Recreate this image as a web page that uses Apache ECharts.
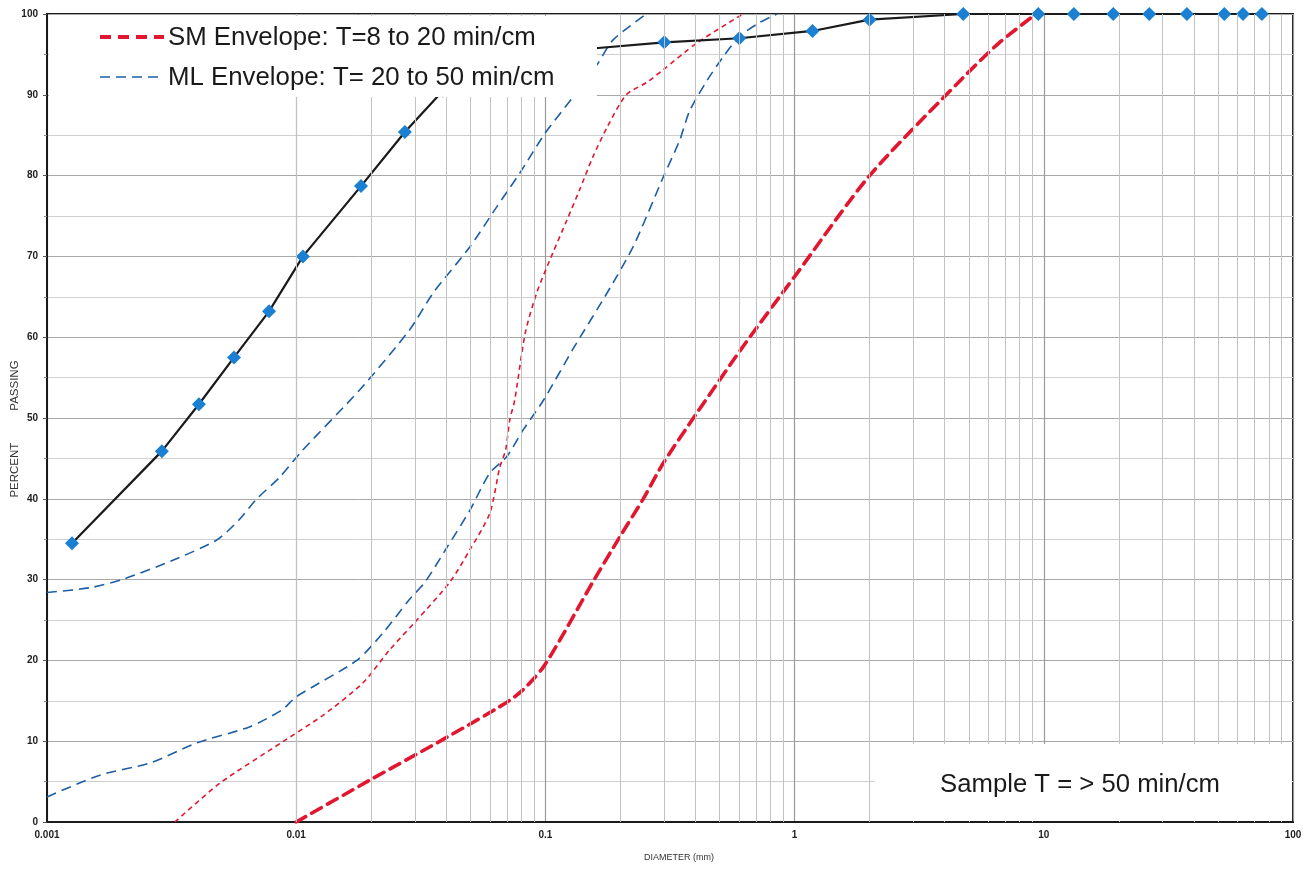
<!DOCTYPE html>
<html>
<head>
<meta charset="utf-8">
<title>Grain size distribution</title>
<script src="https://cdn.jsdelivr.net/npm/echarts@6/dist/echarts.min.js"></script>
<style>
  html, body { margin: 0; padding: 0; background: #ffffff; }
  #chart { width: 1303px; height: 870px; }
</style>
</head>
<body>
<div id="chart"></div>
<script>
// Sample gradation (sieve + hydrometer), diameter in mm vs percent passing
const sampleDiam = [0.00126, 0.00289, 0.00407, 0.00563, 0.00778, 0.01064, 0.0182, 0.0273, 0.0388, 0.075, 0.15,
                    0.3, 0.6, 1.18, 2.0, 4.75, 9.5, 13.2, 19, 26.5, 37.5, 53, 63, 75];
const samplePass = [34.5, 45.9, 51.7, 57.5, 63.2, 70.0, 78.7, 85.4, 90.5, 94.0, 95.7,
                    96.5, 97.0, 97.9, 99.3, 100, 100, 100, 100, 100, 100, 100, 100, 100];

// SM envelope (T = 8 to 20 min/cm): coarse bound
const smLowerDiam = [0.01, 0.0198, 0.0403, 0.0753, 0.0982, 0.155, 0.199, 0.246, 0.297, 0.405, 0.626, 1.0, 2.0, 4.7, 6.6, 9.3];
const smLowerPass = [0, 5.2, 10.5, 15.5, 19.2, 29.7, 35.3, 39.9, 44.4, 50.6, 59.0, 67.5, 80.0, 92.0, 96.4, 100];

// SM envelope: fine bound
const smUpperDiam = [0.00326, 0.00494, 0.0088, 0.0128, 0.0185, 0.0237, 0.0305, 0.0414, 0.0498, 0.0598, 0.0656, 0.0692,
                     0.072, 0.0753, 0.083, 0.0923, 0.107, 0.122, 0.137, 0.155, 0.177, 0.211, 0.254, 0.297, 0.405, 0.62];
const smUpperPass = [0, 4.8, 9.9, 13.2, 17.2, 21.3, 25.0, 29.7, 33.7, 38.2, 43.9, 46.0,
                     49.8, 52.2, 60.5, 65.5, 70.4, 74.5, 78.2, 82.3, 86.0, 90.0, 91.5, 93.1, 96.4, 100];

// ML envelope (T = 20 to 50 min/cm): coarse bound
const mlLowerDiam = [0.001, 0.00163, 0.00259, 0.004, 0.00653, 0.0088, 0.01, 0.0175, 0.0223, 0.0284, 0.0329, 0.0403,
                     0.0498, 0.0598, 0.0699, 0.0813, 0.0982, 0.13, 0.177, 0.225, 0.297, 0.346, 0.379, 0.446, 0.517, 0.6, 0.72, 0.85];
const mlLowerPass = [3.1, 5.8, 7.3, 9.8, 11.8, 13.9, 15.5, 20.0, 23.4, 27.5, 29.7, 34.0,
                     38.6, 43.2, 45.2, 48.5, 52.2, 58.7, 65.5, 71.2, 79.8, 84.4, 88.0, 91.8, 94.7, 97.2, 98.9, 100];

// ML envelope: fine bound
const mlUpperDiam = [0.001, 0.00149, 0.002, 0.0032, 0.0048, 0.0059, 0.0069, 0.0086, 0.0106, 0.018, 0.0285, 0.0355,
                     0.0498, 0.0637, 0.0789, 0.1, 0.129, 0.161, 0.187, 0.254];
const mlUpperPass = [28.4, 29.0, 30.0, 32.4, 34.9, 37.4, 39.9, 42.7, 46.0, 53.5, 60.9, 65.5,
                     71.2, 76.1, 80.3, 85.3, 89.7, 93.7, 96.8, 100];

// Axis labels
const xTickLabels = ['0.001', '0.01', '0.1', '1', '10', '100'];
const yTicks = [0, 10, 20, 30, 40, 50, 60, 70, 80, 90, 100];
const decades = [0.001, 0.01, 0.1, 1, 10];

const legendText = ['SM Envelope: T=8 to 20 min/cm', 'ML Envelope: T= 20 to 50 min/cm'];
const noteText = 'Sample T = > 50 min/cm';

const RED = '#e2162f';
const BLUE = '#1c5ea6';
const FONT = '"Liberation Sans", Arial, sans-serif';

const zip = (xs, ys) => xs.map((x, i) => [x, ys[i]]);

// intermediate log-cycle grid lines (2..9 in every decade)
const minorGrid = [];
decades.forEach(d => { for (let m = 2; m <= 9; m++) minorGrid.push({ xAxis: +(m * d).toPrecision(3) }); });

const chart = echarts.init(document.getElementById('chart'), null, { renderer: 'canvas' });

const envelopeCommon = {
  type: 'line', showSymbol: false, symbol: 'none', smooth: 0.25,
  silent: true, animation: false, z: 3
};

chart.setOption({
  backgroundColor: '#ffffff',
  animation: false,
  textStyle: { fontFamily: FONT },
  grid: {
    left: 47, right: 10, top: 14, bottom: 48,
    outerBoundsMode: 'none', containLabel: false,
    show: true, borderColor: '#1a1a1a', borderWidth: 2, backgroundColor: 'transparent'
  },
  xAxis: {
    type: 'log', logBase: 10, min: 0.001, max: 100,
    name: 'DIAMETER (mm)', nameLocation: 'middle', nameGap: 31, nameMoveOverlap: false,
    nameTextStyle: { fontSize: 9, color: '#333', fontFamily: FONT, padding: [0, 0, 0, 18] },
    axisLine: { show: true, onZero: false, lineStyle: { color: '#1a1a1a', width: 2 } },
    axisTick: { show: false },
    axisLabel: {
      fontSize: 10, fontWeight: 'bold', color: '#222', margin: 8, fontFamily: FONT,
      formatter: v => {
        const i = Math.round(Math.log10(v)) + 3;
        return xTickLabels[i] !== undefined ? xTickLabels[i] : '';
      }
    },
    splitLine: { show: true, lineStyle: { color: '#9a9a9a', width: 1.2 } }
  },
  yAxis: {
    type: 'value', min: 0, max: 100, interval: 10,
    name: 'PERCENT          PASSING', nameLocation: 'middle', nameGap: 26, nameRotate: 90, nameMoveOverlap: false,
    nameTextStyle: { fontSize: 11.5, color: '#333', fontFamily: FONT, padding: [0, 22, 0, 0] },
    axisLine: { show: true, onZero: false, lineStyle: { color: '#1a1a1a', width: 2 } },
    axisTick: { show: true, length: 4, lineStyle: { color: '#555' } },
    axisLabel: {
      fontSize: 10, fontWeight: 'bold', color: '#222', margin: 9, fontFamily: FONT,
      formatter: v => (yTicks.indexOf(v) >= 0 ? String(v) : '')
    },
    splitLine: { show: true, lineStyle: { color: '#a8a8a8', width: 1 } },
    minorTick: { show: true, splitNumber: 2, length: 3, lineStyle: { color: '#888' } },
    minorSplitLine: { show: true, lineStyle: { color: '#cfcfcf', width: 1 } }
  },
  series: [
    {
      name: 'log grid', type: 'line', data: [], silent: true, z: 1,
      markLine: {
        silent: true, symbol: ['none', 'none'], animation: false,
        label: { show: false }, emphasis: { disabled: true },
        lineStyle: { color: '#c2c2c2', width: 1, type: 'solid' },
        data: minorGrid
      }
    },
    Object.assign({}, envelopeCommon, {
      name: 'SM Envelope (coarse)', data: zip(smLowerDiam, smLowerPass),
      lineStyle: { color: RED, width: 3.6, type: [11, 7], cap: 'round' }
    }),
    Object.assign({}, envelopeCommon, {
      name: 'SM Envelope (fine)', data: zip(smUpperDiam, smUpperPass),
      lineStyle: { color: RED, width: 1.6, type: [5, 4] }
    }),
    Object.assign({}, envelopeCommon, {
      name: 'ML Envelope (coarse)', data: zip(mlLowerDiam, mlLowerPass),
      lineStyle: { color: BLUE, width: 1.6, type: [10, 6] }
    }),
    Object.assign({}, envelopeCommon, {
      name: 'ML Envelope (fine)', data: zip(mlUpperDiam, mlUpperPass),
      lineStyle: { color: BLUE, width: 1.6, type: [10, 6] }
    }),
    {
      name: 'Sample', type: 'line', data: zip(sampleDiam, samplePass),
      symbol: 'diamond', symbolSize: 14, showSymbol: true, clip: false, z: 4,
      lineStyle: { color: '#1a1a1a', width: 2.2 },
      itemStyle: { color: '#1b80d2', borderWidth: 0 },
      silent: true
    }
  ],
  graphic: [
    // legend panel
    { type: 'rect', z: 100, silent: true, shape: { x: 49, y: 16, width: 548, height: 81 }, style: { fill: '#ffffff' } },
    { type: 'line', z: 101, silent: true, shape: { x1: 100, y1: 37, x2: 164, y2: 37 },
      style: { stroke: RED, lineWidth: 4, lineDash: [11, 7] } },
    { type: 'text', z: 101, silent: true, x: 168, y: 38,
      style: { text: legendText[0], font: '25.8px ' + FONT, fill: '#1a1a1a', verticalAlign: 'middle' } },
    { type: 'line', z: 101, silent: true, shape: { x1: 100, y1: 77, x2: 164, y2: 77 },
      style: { stroke: BLUE, lineWidth: 1.6, lineDash: [10, 6] } },
    { type: 'text', z: 101, silent: true, x: 168, y: 78,
      style: { text: legendText[1], font: '25.8px ' + FONT, fill: '#1a1a1a', verticalAlign: 'middle' } },
    // note panel
    { type: 'rect', z: 100, silent: true, shape: { x: 874, y: 744, width: 418, height: 77 }, style: { fill: '#ffffff' } },
    { type: 'text', z: 101, silent: true, x: 1080, y: 785,
      style: { text: noteText, font: '25.7px ' + FONT, fill: '#1a1a1a', align: 'center', verticalAlign: 'middle' } }
  ]
});
</script>
</body>
</html>
